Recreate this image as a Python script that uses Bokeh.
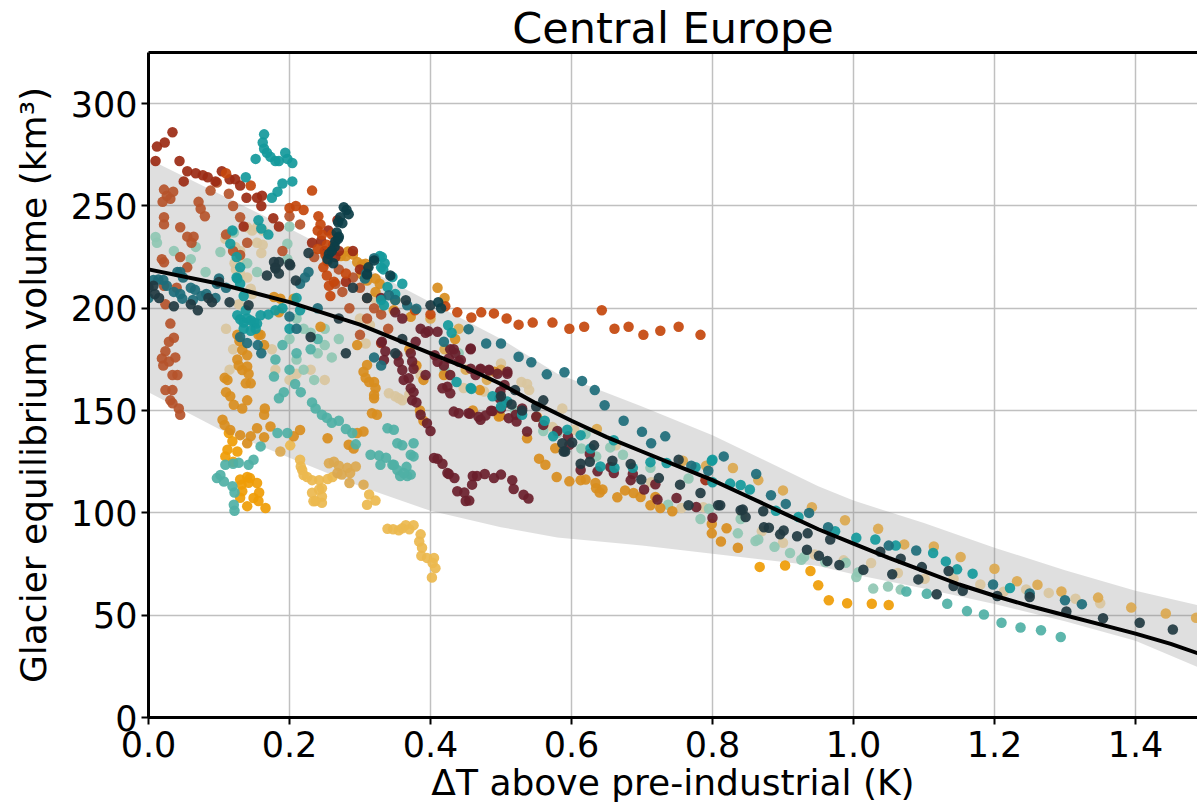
from bokeh.plotting import figure
from bokeh.models import Range1d, FixedTicker, PrintfTickFormatter, LinearAxis, Title
from bokeh.embed import file_html
from bokeh.resources import INLINE

FONT = "DejaVu Sans"

# ---------------- data ----------------
x_ticks = [0.0, 0.2, 0.4, 0.6, 0.8, 1.0, 1.2, 1.4]
y_ticks = [0, 50, 100, 150, 200, 250, 300]

curve_x = [0.0, 0.1, 0.2, 0.3, 0.4, 0.45, 0.5, 0.55, 0.6, 0.65, 0.7, 0.75, 0.8, 0.85, 0.9, 0.95, 1.0, 1.05, 1.1,
           1.15, 1.2, 1.25, 1.3, 1.35, 1.4, 1.45, 1.5]
curve_y = [219, 212, 203, 192, 178, 171, 163, 153.5, 145, 137, 130, 123, 116, 108, 100, 92, 85, 78, 71.5,
           65, 59.5, 54.5, 50, 45.5, 41, 36, 30]

band_x = [0.0, 0.1, 0.2, 0.3, 0.4, 0.5, 0.58, 0.7, 0.8, 0.95, 1.0, 1.1, 1.2, 1.3, 1.4, 1.5]
band_upper = [273, 256, 239, 221, 203, 185, 168, 152, 138, 113, 106, 95, 83, 72, 62, 54]
band_lower = [159, 141, 127, 113, 101, 93, 88, 84, 80, 74, 70, 63, 55.5, 47, 37.5, 23]

darkred = [(0.012, 279), (0.023, 281), (0.034, 286), (0.044, 272), (0.055, 267), (0.067, 266), (0.077, 265),
           (0.084, 264), (0.095, 262), (0.104, 267), (0.115, 263), (0.123, 263), (0.13, 260), (0.139, 254),
           (0.154, 254), (0.161, 255), (0.177, 244), (0.185, 240), (0.16, 250), (0.245, 233), (0.262, 231),
           (0.268, 243), (0.27, 228), (0.232, 232), (0.29, 228), (0.30, 219), (0.05, 262), (0.01, 272),
           (0.135, 240), (0.25, 228), (0.265, 225), (0.28, 213), (0.255, 238), (0.79, 116), (0.33, 183)]

redorange = [(0.378, 199), (0.40, 197), (0.421, 201), (0.438, 198), (0.458, 195.5), (0.472, 198), (0.49, 197.5),
             (0.508, 195), (0.525, 192), (0.545, 193), (0.573, 193), (0.597, 190), (0.618, 191), (0.643, 199),
             (0.661, 190), (0.681, 191), (0.702, 187), (0.726, 189), (0.752, 191), (0.783, 187),
             (0.232, 257.5), (0.209, 250), (0.22, 248), (0.241, 245), (0.244, 241), (0.246, 236), (0.24, 238),
             (0.26, 236), (0.253, 231), (0.251, 226), (0.254, 223), (0.248, 220), (0.253, 216), (0.256, 211),
             (0.258, 206), (0.263, 213), (0.11, 266), (0.145, 260), (0.24, 229), (0.28, 217), (0.2, 249)]

rust = [(0.022, 258), (0.026, 255), (0.031, 253.5), (0.035, 257), (0.02, 252), (0.071, 252), (0.074, 248.6),
        (0.022, 244.5), (0.022, 241), (0.045, 239.6), (0.055, 235), (0.064, 235), (0.061, 232), (0.019, 224),
        (0.022, 222.5), (0.024, 202), (0.022, 211), (0.031, 192.5), (0.036, 185.6), (0.029, 183.6), (0.024, 179),
        (0.019, 175.5), (0.021, 172), (0.029, 174), (0.038, 176), (0.041, 167.4), (0.034, 167.4), (0.024, 160),
        (0.034, 160), (0.031, 155), (0.034, 153.6), (0.043, 151), (0.045, 148), (0.097, 261.5), (0.088, 257.5),
        (0.114, 256), (0.12, 250), (0.13, 244.5), (0.12, 228), (0.13, 226), (0.14, 232), (0.11, 236), (0.08, 245),
        (0.2, 245), (0.215, 241), (0.19, 228), (0.235, 225), (0.27, 219), (0.3, 210), (0.31, 205), (0.32, 200),
        (0.33, 197), (0.34, 190), (0.265, 212), (0.275, 208), (0.285, 200), (0.29, 215), (0.31, 195), (0.3, 187),
        (0.045, 225), (0.055, 220), (0.04, 210)]

maroon = [(0.41, 126.4), (0.417, 124), (0.426, 119), (0.434, 117), (0.438, 110.6), (0.448, 110), (0.45, 105.8),
          (0.455, 106), (0.459, 113.8), (0.46, 118), (0.466, 118), (0.477, 119), (0.49, 117), (0.5, 118.7),
          (0.516, 116), (0.518, 111.7), (0.532, 108.9), (0.539, 107),
          (0.386, 190), (0.393, 188), (0.397, 188.8), (0.41, 188.5), (0.379, 183.6), (0.331, 183.6), (0.336, 179),
          (0.334, 174.7), (0.353, 177), (0.355, 173.8), (0.36, 169.8), (0.372, 178), (0.374, 174), (0.376, 170.4),
          (0.369, 165.8), (0.362, 165), (0.372, 160.9), (0.376, 159), (0.374, 155), (0.38, 154), (0.393, 167.4),
          (0.406, 177), (0.41, 173.9), (0.419, 172), (0.426, 175.5), (0.433, 180), (0.435, 178), (0.428, 167.4),
          (0.417, 160.9), (0.428, 158.5), (0.443, 174.7), (0.457, 180.3), (0.457, 170.5), (0.464, 167.4),
          (0.471, 170.5), (0.483, 170), (0.495, 168), (0.509, 168), (0.505, 162.5), (0.499, 159.3), (0.504, 153.6),
          (0.521, 148), (0.44, 148.7), (0.454, 148.7), (0.468, 147), (0.478, 147.6), (0.488, 149.8), (0.386, 148),
          (0.395, 143.8), (0.4, 140), (0.405, 126.8), (0.424, 119.5), (0.424, 161.7),
          (0.433, 149.5), (0.456, 148.4), (0.471, 145.5), (0.486, 149.9), (0.50, 151), (0.511, 146.3),
          (0.522, 144.7), (0.537, 139.8), (0.428, 180), (0.44, 174), (0.457, 180), (0.471, 170), (0.483, 169.6),
          (0.509, 169), (0.498, 156),
          (0.53, 151), (0.55, 147), (0.56, 143), (0.58, 140), (0.595, 137.4), (0.597, 133.3), (0.626, 128.8),
          (0.613, 121), (0.637, 120.3), (0.655, 122.4), (0.66, 119.5), (0.687, 119), (0.684, 116), (0.703, 111.4),
          (0.719, 114), (0.722, 106.5), (0.749, 107.3), (0.777, 102.9), (0.80, 97.6), (0.35, 198), (0.36, 195),
          (0.33, 205)]

brightteal = [(0.164, 285), (0.162, 281), (0.164, 278), (0.168, 276), (0.152, 273), (0.173, 274), (0.18, 272),
              (0.185, 272), (0.194, 276), (0.197, 273), (0.204, 271), (0.204, 262), (0.19, 261), (0.183, 257),
              (0.175, 254), (0.138, 264), (0.156, 243), (0.16, 239), (0.17, 236),
              (0.119, 238), (0.116, 231.5), (0.125, 225), (0.13, 220), (0.125, 215), (0.126, 214.5), (0.13, 212),
              (0.135, 206), (0.126, 196.6), (0.13, 194.6), (0.135, 193), (0.14, 195), (0.145, 194), (0.15, 193),
              (0.154, 192.5), (0.152, 190), (0.145, 189), (0.135, 190), (0.138, 199), (0.159, 196.6), (0.17, 197),
              (0.18, 199), (0.19, 200), (0.21, 205), (0.215, 199), (0.2, 190),
              (0.328, 225.5), (0.33, 220), (0.331, 225), (0.335, 222), (0.333, 219), (0.346, 215.3),
              (0.339, 210.4), (0.33, 204), (0.334, 201.5), (0.35, 207), (0.36, 212), (0.425, 191.7), (0.43, 188),
              (0.457, 161), (0.488, 157), (0.5, 152), (0.53, 148), (0.437, 164), (0.458, 160.6), (0.509, 154.4),
              (0.562, 145), (0.574, 137.4),
              (0.594, 140.6), (0.613, 138), (0.627, 131.5), (0.641, 122.7), (0.661, 122), (0.66, 135.5),
              (0.687, 122), (0.712, 124.8), (0.735, 124.4), (0.776, 122.3), (0.8, 126), (0.825, 114.3),
              (0.853, 111.4), (0.89, 101), (0.799, 125.5), (0.80, 115), (0.84, 113.6), (0.922, 98), (0.974, 91),
              (1.004, 87.8), (1.031, 87), (1.06, 84), (1.113, 80.4), (1.131, 76.3), (1.147, 72.4), (1.169, 70.3),
              (1.222, 63.3)]

darkteal = [(0.007, 213.8), (0.014, 214), (0.021, 213.8), (0.026, 211), (0.041, 217.7), (0.045, 217.7),
            (0.049, 215), (0.036, 208), (0.045, 207), (0.048, 204.7), (0.06, 210), (0.066, 209), (0.063, 204),
            (0.075, 206), (0.082, 207), (0.097, 212), (0.1, 214.6), (0.095, 205), (0.0, 205), (0.11, 210),
            (0.227, 217.7), (0.222, 215), (0.215, 212), (0.32, 224.5), (0.309, 217), (0.307, 214.5), (0.341, 206.4),
            (0.35, 204), (0.367, 201.5), (0.38, 199.8), (0.419, 183.6), (0.24, 200), (0.2, 196), (0.21, 190),
            (0.155, 182), (0.16, 178), (0.32, 176), (0.33, 172), (0.13, 186), (0.14, 183),
            (0.454, 189.8), (0.479, 182.8), (0.5, 182.8), (0.525, 176.3), (0.543, 173.6), (0.565, 167.7),
            (0.59, 168.7), (0.615, 164.5), (0.633, 160), (0.647, 152.6), (0.674, 145), (0.7, 139.6), (0.713, 134),
            (0.733, 137.4), (0.77, 123), (0.794, 120.6), (0.816, 127.6), (0.862, 119), (0.883, 108.6),
            (0.904, 104.4), (0.937, 100), (0.964, 93), (1.05, 84), (1.089, 81.6), (1.198, 65), (1.25, 60.6),
            (1.3, 57.3), (1.324, 55.4)]

vdarkteal = [(0.277, 249.4), (0.281, 248), (0.284, 246), (0.272, 244.5), (0.269, 242), (0.275, 241.6),
             (0.267, 237), (0.27, 235), (0.269, 234), (0.265, 232.6), (0.264, 230), (0.256, 226.6), (0.254, 224),
             (0.32, 223.4), (0.312, 220), (0.31, 216.5), (0.343, 216), (0.411, 203), (0.415, 200), (0.26, 228),
             (0.262, 222)]

charcoal = [(0.007, 211), (0.009, 207), (0.036, 201), (0.085, 205), (0.0, 210), (0.015, 205), (0.06, 202),
            (0.07, 199), (0.09, 203), (0.1, 212.8), (0.115, 203),
            (0.178, 222.6), (0.18, 220), (0.201, 221), (0.185, 222.6), (0.18, 219.4), (0.185, 217), (0.168, 216),
            (0.2, 221.7), (0.209, 213.6), (0.142, 201.5), (0.227, 227), (0.365, 203.9), (0.4, 201.5), (0.29, 210),
            (0.31, 205), (0.27, 195), (0.36, 185), (0.35, 178), (0.23, 186), (0.28, 178),
            (0.52, 160), (0.55, 152), (0.56, 155), (0.5, 157), (0.53, 150), (0.515, 153), (0.601, 134.4),
            (0.589, 130),
            (0.587, 134), (0.591, 130), (0.632, 133), (0.626, 125), (0.658, 125.5), (0.613, 124), (0.684, 123.9),
            (0.699, 116.3), (0.724, 117), (0.766, 103.7), (0.783, 109.7), (0.808, 103.7), (0.843, 101.6),
            (0.872, 100.8), (0.752, 126), (0.754, 113.8), (0.811, 103.7), (0.84, 101.3), (0.847, 98), (0.873, 93),
            (0.88, 92.7), (0.901, 91.4), (0.896, 89.5), (0.92, 88.6), (0.935, 90), (0.934, 82), (0.951, 79),
            (0.963, 76.5), (0.967, 87), (0.98, 74.5), (1.014, 72.2), (1.038, 81), (1.067, 77.6), (1.055, 70),
            (1.092, 67.5), (1.097, 73.5), (1.118, 60.2), (1.135, 71.6), (1.142, 64.3), (1.155, 61.9),
            (1.204, 59.4), (1.25, 58.9), (1.302, 51.8), (1.354, 48.5), (1.406, 46.3), (1.453, 43)]

medteal = [(0.097, 117), (0.102, 118.5), (0.107, 115.3), (0.119, 113), (0.122, 110), (0.121, 104), (0.122, 101),
           (0.109, 123.5), (0.12, 124), (0.128, 124.5), (0.142, 123.5), (0.149, 126), (0.159, 132.5), (0.183, 139),
           (0.197, 139), (0.216, 159), (0.232, 154), (0.237, 151), (0.246, 148), (0.253, 146.5),
           (0.26, 144), (0.289, 139), (0.315, 128.4), (0.327, 128), (0.329, 123.5), (0.337, 127), (0.346, 123.5),
           (0.353, 121), (0.357, 118), (0.367, 118), (0.366, 122.5), (0.372, 128.4), (0.294, 133.5), (0.376, 134),
           (0.339, 141.4), (0.348, 140.6), (0.353, 134), (0.36, 133), (0.376, 127.6), (0.372, 118.7),
           (0.362, 119.5), (0.348, 123.5), (0.178, 166.6), (0.192, 159), (0.185, 156), (0.2, 170), (0.21, 178),
           (0.18, 175), (0.19, 182), (0.23, 180), (0.24, 185), (0.27, 145), (0.28, 141), (0.208, 163),
           (1.075, 61.6), (1.104, 60.5), (1.133, 55.6), (1.161, 52), (1.185, 50.3), (1.21, 46.3), (1.237, 44),
           (1.266, 42.6), (1.294, 39.3)]

pale = [(0.01, 234.8), (0.012, 232), (0.036, 228), (0.067, 230), (0.06, 224), (0.081, 217.7), (0.102, 227.5),
        (0.121, 237), (0.14, 222), (0.154, 217.7), (0.197, 231.5), (0.197, 224), (0.2, 240), (0.21, 195),
        (0.22, 190), (0.23, 188), (0.24, 178), (0.25, 182), (0.21, 175), (0.2, 185), (0.26, 176), (0.25, 190),
        (0.22, 170), (0.235, 165), (0.27, 185),
        (0.614, 131.5), (0.62, 138.5), (0.635, 127.6), (0.655, 132), (0.673, 128.4), (0.712, 122), (0.737, 104),
        (0.766, 116.8), (0.783, 97), (0.795, 102), (0.836, 90), (0.84, 97), (0.861, 86.2), (0.865, 87),
        (0.888, 83.4), (0.91, 80.4), (0.926, 77.1), (0.93, 78.5), (0.96, 76), (0.989, 75.6), (1.004, 68.7),
        (1.007, 71), (1.028, 63), (1.049, 64), (1.067, 62.5), (0.52, 150), (0.56, 140), (0.42, 170), (0.44, 178),
        (0.58, 139)]

tan = [(0.109, 234), (0.116, 237), (0.123, 230), (0.13, 228), (0.13, 224), (0.122, 222), (0.124, 219), (0.13, 217),
       (0.14, 215), (0.14, 239.6), (0.147, 238), (0.154, 239.6), (0.154, 232), (0.162, 231), (0.16, 227),
       (0.162, 238), (0.145, 209.6), (0.147, 207), (0.128, 202), (0.11, 190), (0.12, 180), (0.115, 170),
       (0.175, 180), (0.18, 170), (0.2, 165), (0.21, 168), (0.23, 170), (0.25, 165),
       (0.314, 191.8), (0.308, 182.8), (0.386, 167.4), (0.355, 156), (0.341, 158.5), (0.35, 157), (0.36, 155),
       (0.37, 158), (0.33, 200), (0.32, 205), (0.3, 195), (0.427, 167.4), (0.447, 161), (0.476, 159.3),
       (0.529, 164), (0.537, 163), (0.573, 142),
       (0.587, 151), (0.604, 140.6), (0.663, 133), (0.713, 115), (0.756, 102.4), (0.787, 102.8), (0.842, 99),
       (0.9, 85.4), (0.87, 91), (0.945, 79.7), (0.986, 76.8), (1.025, 75.5), (1.063, 70.6), (1.101, 67.8),
       (1.142, 67.8), (1.18, 65), (1.213, 61.5), (1.245, 62.6), (1.277, 60.9), (1.315, 58), (1.35, 55.8),
       (0.5, 173), (0.54, 160)]

golden = [(0.126, 187), (0.129, 184), (0.133, 179.6), (0.14, 177), (0.126, 175), (0.128, 172), (0.133, 169.8),
          (0.14, 171.5), (0.142, 168), (0.145, 163.3), (0.138, 163.3), (0.112, 165), (0.108, 166), (0.11, 159),
          (0.116, 157), (0.121, 152.8), (0.133, 151), (0.14, 155), (0.105, 145.5), (0.108, 143), (0.116, 140.5),
          (0.13, 138), (0.14, 134), (0.145, 137.5), (0.154, 141.4), (0.164, 148), (0.165, 151), (0.173, 142.2),
          (0.164, 137), (0.159, 187), (0.164, 182), (0.178, 205.5), (0.187, 204.7), (0.185, 198), (0.206, 204.7),
          (0.156, 187),
          (0.244, 191), (0.296, 182), (0.305, 169), (0.308, 166), (0.313, 164), (0.322, 160.9), (0.32, 156),
          (0.324, 148), (0.305, 139.8), (0.296, 139), (0.284, 133.3), (0.291, 131.5), (0.254, 136.5),
          (0.206, 137.4), (0.215, 140.5),
          (0.283, 227.8), (0.28, 225.5), (0.273, 225.5), (0.29, 226.3), (0.296, 222.6), (0.303, 221.4), (0.31, 220),
          (0.302, 216.7), (0.322, 214.5), (0.328, 212), (0.35, 204), (0.308, 221.8), (0.31, 213.6), (0.322, 208),
          (0.348, 199), (0.372, 195.8), (0.435, 185), (0.31, 172.3), (0.32, 164), (0.32, 157.6), (0.317, 148.7),
          (0.37, 180), (0.38, 172), (0.39, 165), (0.385, 150), (0.39, 145), (0.41, 210), (0.42, 205),
          (0.419, 167.4), (0.491, 169), (0.499, 147.4), (0.551, 147),
          (0.537, 136.5), (0.554, 126.5), (0.563, 123.5), (0.577, 131.6), (0.579, 117.5), (0.597, 115.4),
          (0.62, 116.3), (0.644, 111.4), (0.665, 107.6), (0.613, 116), (0.634, 114.6), (0.635, 112),
          (0.64, 110), (0.676, 111), (0.688, 109.7), (0.698, 107.8), (0.719, 107.8), (0.712, 103.7),
          (0.726, 102.4), (0.743, 100.8), (0.799, 94.6), (0.799, 90), (0.812, 86), (0.836, 83), (0.82, 92.5),
          (0.497, 147.1), (0.46, 150), (0.47, 160)]

orange = [(0.114, 139), (0.119, 135), (0.112, 130.9), (0.109, 127.6), (0.126, 130), (0.13, 116.3), (0.132, 113.8),
          (0.133, 110.6), (0.13, 107.4), (0.14, 103.3), (0.142, 114.7), (0.144, 117), (0.154, 114.6),
          (0.149, 107.3), (0.156, 105.8), (0.166, 102.4), (0.157, 110), (0.14, 117.5), (0.12, 125),
          (0.867, 73.6), (0.903, 74.3), (0.939, 71.6), (0.95, 64.6), (0.965, 57.3), (0.991, 55.8), (1.026, 55.6),
          (1.05, 55)]

lightgold = [(0.339, 92.2), (0.347, 92), (0.355, 91.5), (0.36, 92.5), (0.365, 94), (0.37, 92), (0.376, 94),
             (0.386, 89.5), (0.384, 86), (0.388, 83), (0.387, 79), (0.395, 78), (0.405, 78), (0.403, 75.5),
             (0.407, 73), (0.402, 68.4),
             (0.232, 109.8), (0.237, 105.8), (0.246, 104.9), (0.246, 108), (0.246, 112), (0.242, 116),
             (0.254, 116.5), (0.261, 117.5), (0.232, 116), (0.218, 121), (0.22, 118.5), (0.215, 126), (0.201, 133),
             (0.31, 104), (0.313, 109), (0.322, 106), (0.216, 122.7), (0.225, 117.5), (0.242, 111.4), (0.234, 105.7)]

mustard = [(0.256, 124.3), (0.263, 125), (0.27, 123), (0.268, 119.5), (0.274, 118.7), (0.282, 122), (0.286, 119.5),
           (0.285, 114.6), (0.294, 122.7), (0.305, 113.8), (0.187, 130),
           (0.791, 123), (0.829, 121.9), (0.865, 116), (0.9, 111), (0.941, 102.8), (0.988, 96.4), (1.035, 92.2),
           (1.072, 84.6), (1.114, 83.6), (1.152, 78.4), (1.2, 72.7), (1.232, 66.6), (1.261, 64.9), (1.295, 61.6),
           (1.347, 58.6), (1.394, 53.7), (1.443, 50.8), (1.486, 48.7), (0.636, 141), (0.758, 125.5),
           (0.5, 170), (0.48, 165), (0.45, 170), (0.42, 180), (0.44, 190), (0.4, 195)]

series = [
    (tan, "#d9c59e"),
    (pale, "#8fc7b3"),
    (lightgold, "#ecb84e"),
    (mustard, "#dba84f"),
    (orange, "#ef9c05"),
    (golden, "#d88d1e"),
    (medteal, "#4fb0a5"),
    (rust, "#b5542b"),
    (darkred, "#9b2a14"),
    (redorange, "#c4470c"),
    (maroon, "#6a1f2d"),
    (brightteal, "#13999b"),
    (darkteal, "#1d6c7a"),
    (charcoal, "#213a41"),
    (vdarkteal, "#0c3e48"),
]

# ---------------- figure ----------------
p = figure(width=1197, height=812, output_backend="svg", toolbar_location=None,
           x_range=Range1d(0, 1.488), y_range=Range1d(0, 325),
           min_border_left=148, min_border_right=0, min_border_top=48, min_border_bottom=95)
p.title.visible = False
p.outline_line_color = None
p.background_fill_color = "white"
p.border_fill_color = "white"

p.varea(x=band_x, y1=band_lower, y2=band_upper, fill_color="#808080", fill_alpha=0.25)

for pts, col in series:
    xs = [a for a, b in pts]
    ys = [b for a, b in pts]
    p.scatter(xs, ys, size=10.5, fill_color=col, line_color=None, fill_alpha=0.92)

p.line(curve_x, curve_y, line_color="black", line_width=4, line_join="round")

# axes
for ax in (p.xaxis[0], p.yaxis[0]):
    ax.axis_line_width = 3
    ax.axis_line_color = "black"
    ax.major_tick_line_width = 2
    ax.major_tick_in = 0
    ax.major_tick_out = 7
    ax.minor_tick_line_color = None
    ax.major_label_text_font = FONT
    ax.major_label_text_font_size = "35px"
    ax.major_label_text_color = "black"
    ax.axis_label_text_font = FONT
    ax.axis_label_text_font_size = "36px"
    ax.axis_label_text_font_style = "normal"
    ax.axis_label_text_color = "black"

p.xaxis.ticker = FixedTicker(ticks=x_ticks)
p.xaxis.formatter = PrintfTickFormatter(format="%.1f")
p.yaxis.ticker = FixedTicker(ticks=y_ticks)
p.xaxis.axis_label = "ΔT above pre-industrial (K)"
p.yaxis.axis_label = "Glacier equilibrium volume (km³)"
p.xaxis.major_label_standoff = 6
p.xaxis.axis_label_standoff = 2
p.yaxis.major_label_standoff = 4
p.yaxis.axis_label_standoff = 14

p.xgrid.ticker = FixedTicker(ticks=x_ticks)
p.ygrid.ticker = FixedTicker(ticks=y_ticks)
p.grid.grid_line_color = "#c0c0c0"
p.grid.grid_line_width = 1.5

top = LinearAxis(ticker=FixedTicker(ticks=[]), major_label_text_font_size="0px",
                 axis_line_width=3, axis_line_color="black", major_tick_line_color=None,
                 minor_tick_line_color=None, major_tick_out=0, major_tick_in=0, major_label_standoff=0)
p.add_layout(top, "above")
p.add_layout(Title(text="Central Europe", align="center", text_font=FONT, text_font_size="43px",
                   text_font_style="normal", text_color="black", offset=7, standoff=0,
                   text_line_height=1.0), "above")

open("out.html", "w").write(file_html(p, INLINE))
